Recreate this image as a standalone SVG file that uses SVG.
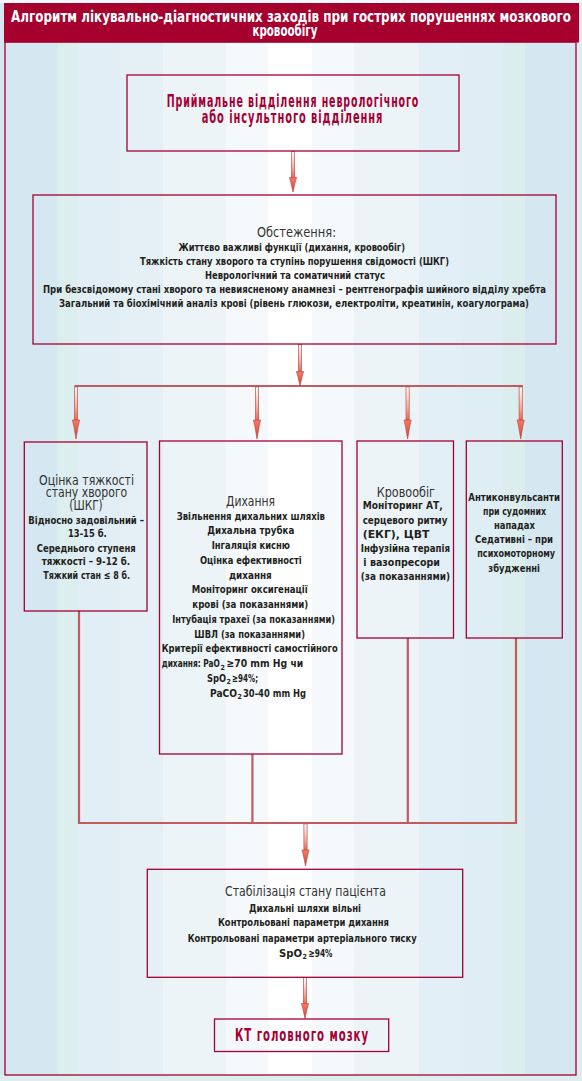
<svg xmlns="http://www.w3.org/2000/svg" width="582" height="1081" viewBox="0 0 582 1081">
<defs>
<style>
.hd{font-family:"DejaVu Sans Condensed","DejaVu Sans",sans-serif;font-weight:bold;font-size:15px;fill:#fff}
.rt{font-family:"DejaVu Sans Condensed","DejaVu Sans",sans-serif;font-weight:bold;font-size:17.5px;letter-spacing:1.5px;fill:#A50034}
.ti{font-family:"DejaVu Sans Condensed","DejaVu Sans",sans-serif;font-size:14px;fill:#333}
.b{font-family:"DejaVu Sans Condensed","DejaVu Sans",sans-serif;font-weight:bold;font-size:11px;fill:#231F20}
.sub{font-family:"DejaVu Sans Condensed","DejaVu Sans",sans-serif;font-weight:bold;font-size:7px;fill:#231F20}
.box{fill:none;stroke:#A50034;stroke-width:1.3}
.con{fill:none;stroke:#C25B5F;stroke-width:2.2}
.shaft{fill:url(#gShaft);stroke:#C0504D;stroke-width:0.7}
.head{fill:url(#gHead);stroke:#B8403A;stroke-width:0.6}
</style>
<linearGradient id="gShaft" x1="0" y1="0" x2="0" y2="1">
<stop offset="0" stop-color="#ffffff"/>
<stop offset="0.6" stop-color="#F6B0A2"/>
<stop offset="1" stop-color="#EC6A55"/>
</linearGradient>
<linearGradient id="gHead" x1="0" y1="0" x2="0" y2="1">
<stop offset="0" stop-color="#F47A66"/>
<stop offset="1" stop-color="#D9443A"/>
</linearGradient>
</defs>

<g id="background">
<rect x="0" y="0" width="582" height="1081" fill="#DDEEEE"/>
<rect x="0" y="0" width="57.6" height="1075" fill="#D5E7F1"/>
<rect x="57.6" y="0" width="20.4" height="1075" fill="#DDEEEE"/>
<rect x="78" y="0" width="42" height="1075" fill="#E1EEF5"/>
<rect x="120" y="0" width="43" height="1075" fill="#E4F0F6"/>
<rect x="163" y="0" width="63" height="1075" fill="#ECF4F8"/>
<rect x="226" y="0" width="42" height="1075" fill="#F5F9FC"/>
<rect x="268" y="0" width="44" height="1075" fill="#FFFFFF"/>
<rect x="312" y="0" width="42" height="1075" fill="#F5F9FC"/>
<rect x="354" y="0" width="65" height="1075" fill="#ECF4F8"/>
<rect x="419" y="0" width="42" height="1075" fill="#E3EFF6"/>
<rect x="461" y="0" width="42" height="1075" fill="#DFEEF5"/>
<rect x="503" y="0" width="22" height="1075" fill="#DCEDEE"/>
<rect x="525" y="0" width="51" height="1075" fill="#D5E7F1"/>
<rect x="576" y="0" width="6" height="1081" fill="#DDEEEE"/>
<rect x="0" y="0" width="582" height="3" fill="#F4F8FA"/>
<rect x="5" y="42" width="571" height="1033" fill="none" stroke="#A50034" stroke-width="1.3"/>
</g>

<g id="header">
<rect x="4" y="3" width="575" height="39.5" fill="#A6002F"/>
<text class="hd" x="11" y="21.7" textLength="560" lengthAdjust="spacingAndGlyphs">Алгоритм лікувально-діагностичних заходів при гострих порушеннях мозкового</text>
<text class="hd" x="252.4" y="35.5" textLength="65" lengthAdjust="spacingAndGlyphs">кровообігу</text>
</g>

<g id="connectors">
<line class="con" x1="74.5" y1="386" x2="523" y2="386"/>
<line class="con" x1="79" y1="611" x2="79" y2="823"/>
<line class="con" x1="252.4" y1="754" x2="252.4" y2="823"/>
<line class="con" x1="407.8" y1="638" x2="407.8" y2="823"/>
<line class="con" x1="516" y1="638" x2="516" y2="823"/>
<line class="con" x1="77.9" y1="823" x2="517.1" y2="823"/>

<rect class="shaft" x="291.4" y="151.5" width="3.2" height="26"/>
<polygon class="head" points="289.4,177.5 296.6,177.5 295.2,182.5 293,192 290.8,182.5"/>

<rect class="shaft" x="298.4" y="344.5" width="3.2" height="27"/>
<polygon class="head" points="296.4,371.5 303.6,371.5 302.2,376.5 300,386 297.8,376.5"/>

<rect class="shaft" x="74.4" y="387" width="3.2" height="33"/>
<polygon class="head" points="72.4,420 79.6,420 78.2,426 76,439 73.8,426"/>
<rect class="shaft" x="255.4" y="387" width="3.2" height="33"/>
<polygon class="head" points="253.4,420 260.6,420 259.2,426 257,439 254.8,426"/>
<rect class="shaft" x="406" y="387" width="3.2" height="33"/>
<polygon class="head" points="404,420 411.2,420 409.8,426 407.6,439 405.4,426"/>
<rect class="shaft" x="519.1" y="387" width="3.2" height="33"/>
<polygon class="head" points="517.1,420 524.3,420 522.9,426 520.7,439 518.5,426"/>

<rect class="shaft" x="303.9" y="824" width="3.2" height="26"/>
<polygon class="head" points="301.9,850 309.1,850 307.7,855 305.5,866 303.3,855"/>

<rect class="shaft" x="303.4" y="977.5" width="3.2" height="26"/>
<polygon class="head" points="301.4,1003.5 308.6,1003.5 307.2,1008.5 305,1018.5 302.8,1008.5"/>
</g>

<g id="node-admission">
<rect class="box" x="127" y="75" width="332" height="76"/>
<text class="rt" x="166.7" y="106.7" textLength="252.6" lengthAdjust="spacingAndGlyphs">Приймальне відділення неврологічного</text>
<text class="rt" x="201.7" y="123.3" textLength="181.6" lengthAdjust="spacingAndGlyphs">або інсультного відділення</text>
</g>

<g id="node-exam">
<rect class="box" x="33" y="195" width="523" height="149"/>
<text class="ti" x="257" y="237" textLength="79" lengthAdjust="spacingAndGlyphs">Обстеження:</text>
<text class="b" x="178.6" y="250.7" textLength="226.4" lengthAdjust="spacingAndGlyphs">Життєво важливі функції (дихання, кровообіг)</text>
<text class="b" x="140" y="265" textLength="309" lengthAdjust="spacingAndGlyphs">Тяжкість стану хворого та ступінь порушення свідомості (ШКГ)</text>
<text class="b" x="205" y="278.7" textLength="180" lengthAdjust="spacingAndGlyphs">Неврологічний та соматичний статус</text>
<text class="b" x="43" y="292.7" textLength="503" lengthAdjust="spacingAndGlyphs">При безсвідомому стані хворого та невиясненому анамнезі – рентгенографія шийного відділу хребта</text>
<text class="b" x="59" y="306.7" textLength="470" lengthAdjust="spacingAndGlyphs">Загальний та біохімічний аналіз крові (рівень глюкози, електроліти, креатинін, коагулограма)</text>
</g>

<g id="node-severity">
<rect class="box" x="24.3" y="442" width="122.7" height="169"/>
<text class="ti" x="39" y="484.5" font-size="13.5" textLength="95" lengthAdjust="spacingAndGlyphs">Оцінка тяжкості</text>
<text class="ti" x="45.7" y="496.5" font-size="13.5" textLength="81.6" lengthAdjust="spacingAndGlyphs">стану хворого</text>
<text class="ti" x="69.3" y="509.5" font-size="13" textLength="33.4" lengthAdjust="spacingAndGlyphs">(ШКГ)</text>
<text class="b" x="28.3" y="523.5" textLength="115.7" lengthAdjust="spacingAndGlyphs">Відносно задовільний –</text>
<text class="b" x="68" y="536.5" textLength="38.7" lengthAdjust="spacingAndGlyphs">13-15 б.</text>
<text class="b" x="36.7" y="551.5" textLength="99" lengthAdjust="spacingAndGlyphs">Середнього ступеня</text>
<text class="b" x="41.7" y="565" textLength="88.3" lengthAdjust="spacingAndGlyphs">тяжкості – 9-12 б.</text>
<text class="b" x="43.3" y="578.5" textLength="86.7" lengthAdjust="spacingAndGlyphs">Тяжкий стан ≤ 8 б.</text>
</g>

<g id="node-breathing">
<rect class="box" x="159.5" y="441" width="182.5" height="313"/>
<text class="ti" x="226" y="505.5" textLength="49" lengthAdjust="spacingAndGlyphs">Дихання</text>
<text class="b" x="176.7" y="519.5" textLength="148.3" lengthAdjust="spacingAndGlyphs">Звільнення дихальних шляхів</text>
<text class="b" x="207.3" y="534.2" textLength="87" lengthAdjust="spacingAndGlyphs">Дихальна трубка</text>
<text class="b" x="211.7" y="549" textLength="78.3" lengthAdjust="spacingAndGlyphs">Інгаляція кисню</text>
<text class="b" x="200" y="563.7" textLength="101.7" lengthAdjust="spacingAndGlyphs">Оцінка ефективності</text>
<text class="b" x="229" y="578.5" textLength="42.7" lengthAdjust="spacingAndGlyphs">дихання</text>
<text class="b" x="191.7" y="593.2" textLength="116" lengthAdjust="spacingAndGlyphs">Моніторинг оксигенації</text>
<text class="b" x="192.3" y="608" textLength="116" lengthAdjust="spacingAndGlyphs">крові (за показаннями)</text>
<text class="b" x="172.3" y="622.7" textLength="162.7" lengthAdjust="spacingAndGlyphs">Інтубація трахеї (за показаннями)</text>
<text class="b" x="194.3" y="637.5" textLength="110.7" lengthAdjust="spacingAndGlyphs">ШВЛ (за показаннями)</text>
<text class="b" x="161.7" y="652.2" textLength="176" lengthAdjust="spacingAndGlyphs">Критерії ефективності самостійного</text>
<text class="b" x="161.7" y="667" textLength="58" lengthAdjust="spacingAndGlyphs">дихання: PaO</text>
<text class="sub" x="220.5" y="669.5">2</text>
<text class="b" x="226.5" y="667" textLength="76.8" lengthAdjust="spacingAndGlyphs">≥70 mm Hg чи</text>
<text class="b" x="207" y="681.7" textLength="19" lengthAdjust="spacingAndGlyphs">SpO</text>
<text class="sub" x="226.5" y="684.2">2</text>
<text class="b" x="232" y="681.7" textLength="26" lengthAdjust="spacingAndGlyphs">≥94%;</text>
<text class="b" x="210" y="696.5" textLength="27" lengthAdjust="spacingAndGlyphs">PaCO</text>
<text class="sub" x="237.5" y="699">2</text>
<text class="b" x="243" y="696.5" textLength="63" lengthAdjust="spacingAndGlyphs">30-40 mm Hg</text>
</g>

<g id="node-circulation">
<rect class="box" x="357" y="441" width="96.5" height="197"/>
<text class="ti" x="376.7" y="496.5" textLength="58.3" lengthAdjust="spacingAndGlyphs">Кровообіг</text>
<text class="b" x="362.7" y="508.5" textLength="80" lengthAdjust="spacingAndGlyphs">Моніторинг АТ,</text>
<text class="b" x="362.7" y="523.5" textLength="84.7" lengthAdjust="spacingAndGlyphs">серцевого ритму</text>
<text class="b" x="362.7" y="537.5" textLength="66.7" lengthAdjust="spacingAndGlyphs">(ЕКГ), ЦВТ</text>
<text class="b" x="360.7" y="552" textLength="89.3" lengthAdjust="spacingAndGlyphs">Інфузійна терапія</text>
<text class="b" x="363.3" y="566" textLength="76.7" lengthAdjust="spacingAndGlyphs">і вазопресори</text>
<text class="b" x="360.7" y="580" textLength="89.3" lengthAdjust="spacingAndGlyphs">(за показаннями)</text>
</g>

<g id="node-anticonvulsants">
<rect class="box" x="466.3" y="441" width="96" height="197"/>
<text class="b" x="468.3" y="501" textLength="91.7" lengthAdjust="spacingAndGlyphs">Антиконвульсанти</text>
<text class="b" x="483" y="515" textLength="63" lengthAdjust="spacingAndGlyphs">при судомних</text>
<text class="b" x="494" y="528.5" textLength="41" lengthAdjust="spacingAndGlyphs">нападах</text>
<text class="b" x="475" y="543" textLength="78" lengthAdjust="spacingAndGlyphs">Седативні – при</text>
<text class="b" x="477.3" y="557" textLength="77.7" lengthAdjust="spacingAndGlyphs">психомоторному</text>
<text class="b" x="488.3" y="572" textLength="51.7" lengthAdjust="spacingAndGlyphs">збудженні</text>
</g>

<g id="node-stabilization">
<rect class="box" x="147.3" y="869.3" width="315.4" height="108"/>
<text class="ti" x="225" y="896" textLength="161" lengthAdjust="spacingAndGlyphs">Стабілізація стану пацієнта</text>
<text class="b" x="249" y="911.7" textLength="112" lengthAdjust="spacingAndGlyphs">Дихальні шляхи вільні</text>
<text class="b" x="218" y="926" textLength="171" lengthAdjust="spacingAndGlyphs">Контрольовані параметри дихання</text>
<text class="b" x="187.7" y="941.7" textLength="229" lengthAdjust="spacingAndGlyphs">Контрольовані параметри артеріального тиску</text>
<text class="b" x="279" y="956.7" textLength="23" lengthAdjust="spacingAndGlyphs">SpO</text>
<text class="sub" x="302.5" y="959.2">2</text>
<text class="b" x="308.5" y="956.7" textLength="24" lengthAdjust="spacingAndGlyphs">≥94%</text>
</g>

<g id="node-ct">
<rect class="box" x="214.5" y="1019" width="174.2" height="32.5"/>
<text class="rt" x="235" y="1040.7" font-size="18.5" textLength="134" lengthAdjust="spacingAndGlyphs">КТ головного мозку</text>
</g>
</svg>
